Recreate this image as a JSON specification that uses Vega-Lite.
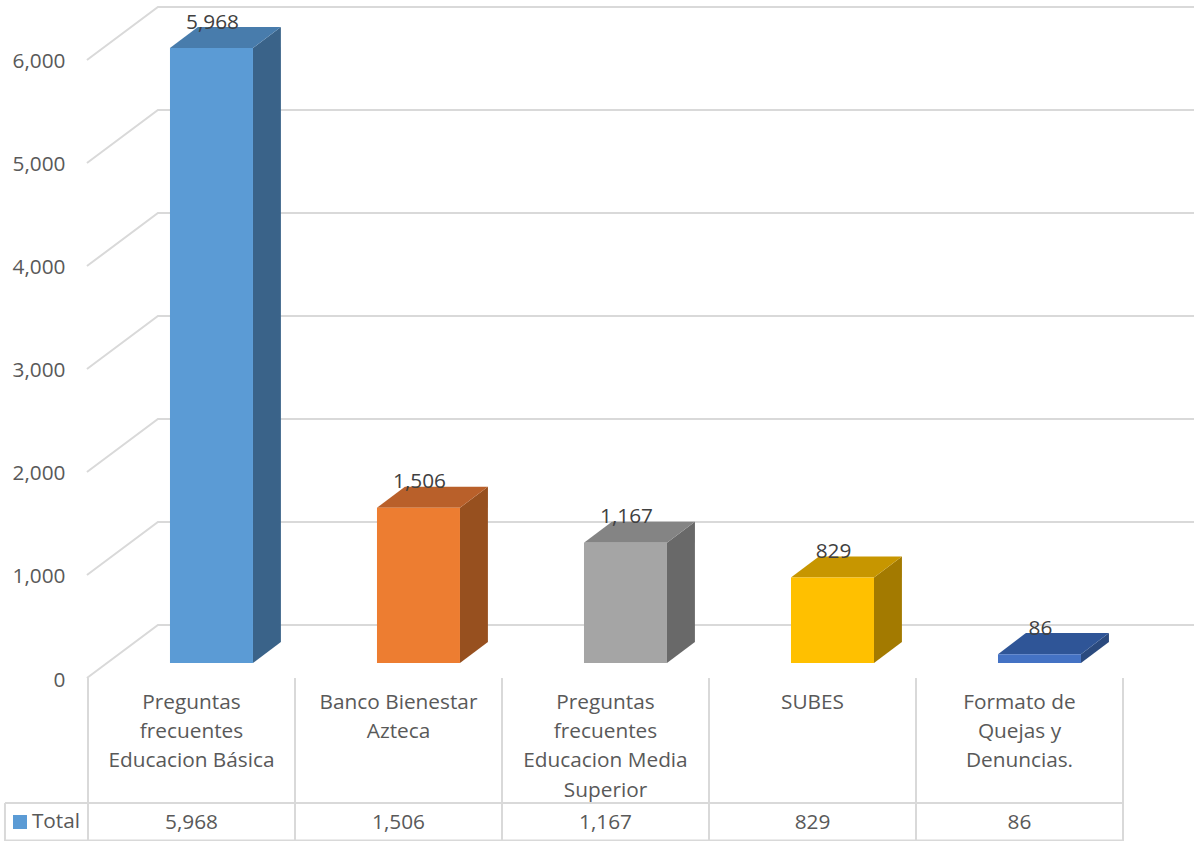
{
"$schema":"https://vega.github.io/schema/vega-lite/v6.json",
"width":1194,"height":841,"padding":0,"autosize":{"type":"none"},"background":"#ffffff",
"view":{"stroke":null},
"config":{"text":{"font":"Open Sans"}},
"datasets":{
"bars":[
{"cat":"Preguntas frecuentes Educacion Básica","label":"Preguntas\nfrecuentes\nEducacion Básica","pos":0.5,"value":5968},
{"cat":"Banco Bienestar Azteca","label":"Banco Bienestar\nAzteca","pos":1.5,"value":1506},
{"cat":"Preguntas frecuentes Educacion Media Superior","label":"Preguntas\nfrecuentes\nEducacion Media\nSuperior","pos":2.5,"value":1167},
{"cat":"SUBES","label":"SUBES","pos":3.5,"value":829},
{"cat":"Formato de Quejas y Denuncias.","label":"Formato de\nQuejas y\nDenuncias.","pos":4.5,"value":86}
],
"faces":[
{"part":"A side","pos":0.797,"low":0,"high":5968},{"part":"A side","pos":0.932,"low":204,"high":6172},
{"part":"A top","pos":0.396,"low":5968,"high":5968},{"part":"A top","pos":0.531,"low":5968,"high":6172},{"part":"A top","pos":0.797,"low":5968,"high":6172},{"part":"A top","pos":0.932,"low":6172,"high":6172},
{"part":"B side","pos":1.797,"low":0,"high":1506},{"part":"B side","pos":1.932,"low":204,"high":1710},
{"part":"B top","pos":1.396,"low":1506,"high":1506},{"part":"B top","pos":1.531,"low":1506,"high":1710},{"part":"B top","pos":1.797,"low":1506,"high":1710},{"part":"B top","pos":1.932,"low":1710,"high":1710},
{"part":"C side","pos":2.797,"low":0,"high":1167},{"part":"C side","pos":2.932,"low":204,"high":1371},
{"part":"C top","pos":2.396,"low":1167,"high":1167},{"part":"C top","pos":2.531,"low":1167,"high":1371},{"part":"C top","pos":2.797,"low":1167,"high":1371},{"part":"C top","pos":2.932,"low":1371,"high":1371},
{"part":"D side","pos":3.797,"low":0,"high":829},{"part":"D side","pos":3.932,"low":204,"high":1033},
{"part":"D top","pos":3.396,"low":829,"high":829},{"part":"D top","pos":3.531,"low":829,"high":1033},{"part":"D top","pos":3.797,"low":829,"high":1033},{"part":"D top","pos":3.932,"low":1033,"high":1033},
{"part":"E side","pos":4.797,"low":0,"high":86},{"part":"E side","pos":4.932,"low":204,"high":290},
{"part":"E top","pos":4.396,"low":86,"high":86},{"part":"E top","pos":4.531,"low":86,"high":290},{"part":"E top","pos":4.797,"low":86,"high":290},{"part":"E top","pos":4.932,"low":290,"high":290}
],
"walls":[
{"tick":0,"pos":-0.005,"level":-146},{"tick":0,"pos":0.338,"level":369},{"tick":0,"pos":5.343,"level":369},
{"tick":1000,"pos":-0.005,"level":854},{"tick":1000,"pos":0.338,"level":1368},{"tick":1000,"pos":5.343,"level":1368},
{"tick":2000,"pos":-0.005,"level":1853},{"tick":2000,"pos":0.338,"level":2368},{"tick":2000,"pos":5.343,"level":2368},
{"tick":3000,"pos":-0.005,"level":2853},{"tick":3000,"pos":0.338,"level":3367},{"tick":3000,"pos":5.343,"level":3367},
{"tick":4000,"pos":-0.005,"level":3852},{"tick":4000,"pos":0.338,"level":4367},{"tick":4000,"pos":5.343,"level":4367},
{"tick":5000,"pos":-0.005,"level":4852},{"tick":5000,"pos":0.338,"level":5366},{"tick":5000,"pos":5.343,"level":5366},
{"tick":6000,"pos":-0.005,"level":5851},{"tick":6000,"pos":0.338,"level":6366},{"tick":6000,"pos":5.343,"level":6366}
],
"tableV":[
{"pos":-0.401,"top":-1359,"bottom":-1727},
{"pos":0,"top":-146,"bottom":-1727},{"pos":1,"top":-146,"bottom":-1727},{"pos":2,"top":-146,"bottom":-1727},{"pos":3,"top":-146,"bottom":-1727},{"pos":4,"top":-146,"bottom":-1727},{"pos":5,"top":-146,"bottom":-1727}
],
"tableH":[
{"from":-0.401,"to":5,"level":-1359},
{"from":-0.401,"to":5,"level":-1722}
],
"key":[{"name":"Total","pos":-0.3285,"label":-0.271,"level":-1543}]
},
"layer":[
{"data":{"name":"walls"},
 "mark":{"type":"line","color":"#D9D9D9","strokeWidth":2,"clip":false},
 "encoding":{
  "x":{"field":"pos","type":"quantitative","scale":{"domain":[-0.425,5.343],"nice":false,"zero":false,"padding":0},"axis":null},
  "y":{"field":"level","type":"quantitative","scale":{"domain":[-1727.3,6433.8],"nice":false,"zero":false},
       "axis":{"title":null,"orient":"left","values":[0,1000,2000,3000,4000,5000,6000],"format":",.0f","domain":false,"ticks":false,"grid":false,"offset":-70,"labelPadding":5,"labelOffset":17,"labelFont":"Open Sans","labelFontSize":20.8,"labelColor":"#595959"}},
  "detail":{"field":"tick"}}},
{"data":{"name":"tableV"},
 "mark":{"type":"rule","color":"#D9D9D9","strokeWidth":2},
 "encoding":{"x":{"field":"pos","type":"quantitative"},"y":{"field":"top","type":"quantitative"},"y2":{"field":"bottom"}}},
{"data":{"name":"tableH"},
 "mark":{"type":"rule","color":"#D9D9D9","strokeWidth":2},
 "encoding":{"x":{"field":"from","type":"quantitative"},"x2":{"field":"to"},"y":{"field":"level","type":"quantitative"}}},
{"data":{"name":"faces"},
 "mark":{"type":"area","line":false},
 "encoding":{
  "x":{"field":"pos","type":"quantitative"},
  "y":{"field":"low","type":"quantitative"},"y2":{"field":"high"},
  "color":{"field":"part","type":"nominal","legend":null,"scale":{
    "domain":["A side","A top","B side","B top","C side","C top","D side","D top","E side","E top"],
    "range":["#3A6389","#487CAC","#97501F","#B9602A","#696969","#848484","#A37A00","#C79600","#2B4A7E","#2F5597"]}}}},
{"data":{"name":"bars"},
 "mark":{"type":"bar","width":83,"xOffset":20},
 "encoding":{
  "x":{"field":"pos","type":"quantitative"},
  "y":{"field":"value","type":"quantitative"},
  "color":{"field":"cat","type":"nominal","legend":null,"scale":{
    "domain":["Preguntas frecuentes Educacion Básica","Banco Bienestar Azteca","Preguntas frecuentes Educacion Media Superior","SUBES","Formato de Quejas y Denuncias."],
    "range":["#5B9BD5","#ED7D31","#A5A5A5","#FFC000","#4472C4"]}}}},
{"data":{"name":"bars"},
 "mark":{"type":"text","fontSize":20.8,"color":"#404040","xOffset":21,"dy":-25.5,"baseline":"middle","align":"center"},
 "encoding":{"x":{"field":"pos","type":"quantitative"},"y":{"field":"value","type":"quantitative"},"text":{"field":"value","type":"quantitative","format":","}}},
{"data":{"name":"bars"},
 "mark":{"type":"text","fontSize":20.8,"color":"#595959","baseline":"top","align":"center","lineBreak":"\n","lineHeight":29.3},
 "encoding":{"x":{"field":"pos","type":"quantitative"},"y":{"datum":-288},"text":{"field":"label","type":"nominal"}}},
{"data":{"name":"bars"},
 "mark":{"type":"text","fontSize":20.8,"color":"#595959","baseline":"middle","align":"center"},
 "encoding":{"x":{"field":"pos","type":"quantitative"},"y":{"datum":-1548},"text":{"field":"value","type":"quantitative","format":","}}},
{"data":{"name":"key"},
 "mark":{"type":"square","size":196,"filled":true,"opacity":1,"color":"#5B9BD5"},
 "encoding":{"x":{"field":"pos","type":"quantitative"},"y":{"field":"level","type":"quantitative"}}},
{"data":{"name":"key"},
 "mark":{"type":"text","fontSize":20.8,"color":"#595959","baseline":"middle","align":"left"},
 "encoding":{"x":{"field":"label","type":"quantitative"},"y":{"field":"level","type":"quantitative"},"text":{"field":"name","type":"nominal"}}}
],
"resolve":{"scale":{"color":"independent"}}
}
